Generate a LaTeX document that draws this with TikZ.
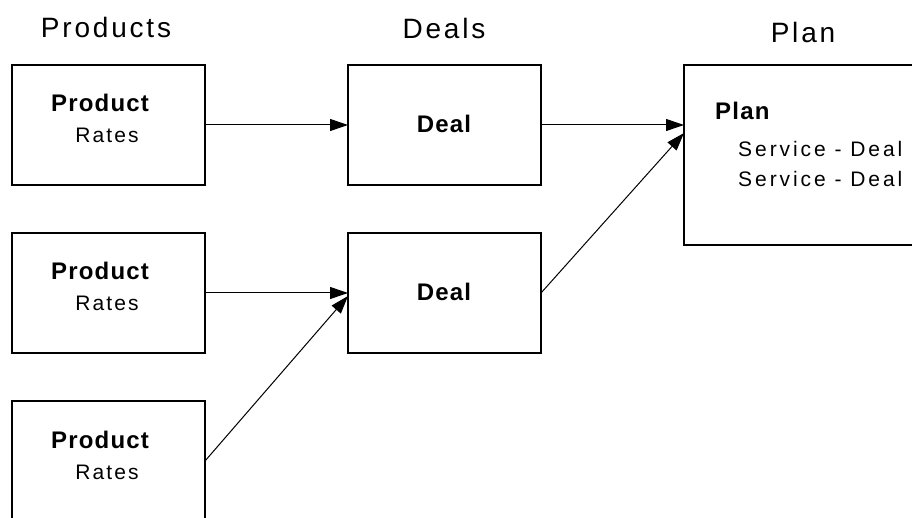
\documentclass[tikz,border=0pt]{standalone}
\usepackage{fontspec}
\usetikzlibrary{arrows.meta,calc}
\newfontfamily\lfont[LetterSpace=10]{Liberation Sans}
\newfontfamily\bfont[LetterSpace=5]{Liberation Sans Bold}
\newfontfamily\sfont[LetterSpace=14]{Liberation Sans}
\begin{document}
\begin{tikzpicture}[x=1pt,y=-1pt,
  box/.style={draw=black,line width=1.5pt,minimum width=193pt,minimum height=120pt,inner sep=0pt,outer sep=0pt,anchor=north west},
  txt/.style={inner sep=0pt,font=\lfont\fontsize{21}{24}\selectfont},
  stxt/.style={inner sep=0pt,font=\sfont\fontsize{21}{24}\selectfont},
  btxt/.style={inner sep=0pt,font=\bfont\fontsize{24}{26}\selectfont},
  head/.style={inner sep=0pt,anchor=base,font=\lfont\fontsize{28}{30}\selectfont},
  arr/.style={line width=1pt,-{Triangle[length=18pt,width=12pt]}}]
\useasboundingbox (0,0) rectangle (912,518);
\fill[white] (0,0) rectangle (912,518);
\clip (0,0) rectangle (912,518);
% headings
\node[head] (hprod) at (106,38) {Products};
\node[head] (hdeal) at (444,39) {Deals};
\node[head] (hplan) at (803,43) {Plan};
% product boxes
\node[box] (p1) at (12,65) {};
\node[box] (p2) at (12,233) {};
\node[box] (p3) at (12,401) {};
\node[btxt,anchor=base] (p1a) at (100,112) {Product};
\node[txt,anchor=base] (p1b) at (107,143) {Rates};
\node[btxt,anchor=base] (p2a) at (100,280) {Product};
\node[txt,anchor=base] (p2b) at (107,311) {Rates};
\node[btxt,anchor=base] (p3a) at (100,448) {Product};
\node[txt,anchor=base] (p3b) at (107,479) {Rates};
% deal boxes
\node[box] (d1) at (348,65) {};
\node[box] (d2) at (348,233) {};
\node[btxt,anchor=base] (d1a) at (444,133) {Deal};
\node[btxt,anchor=base] (d2a) at (444,301) {Deal};
% plan box
\node[box,minimum width=300pt,minimum height=180pt] (pl) at (684,65) {};
\node[btxt,anchor=base west] (pla) at (715,120) {Plan};
\node[stxt,anchor=base west] (plb) at (738,157) {Service - Deal};
\node[stxt,anchor=base west] (plc) at (738,187) {Service - Deal};
% connectors
\draw[arr] (p1.east) -- (d1.west);
\draw[arr] (p2.east) -- (d2.west);
\draw[arr] (p3.east) -- ($(d2.west)+(0,3)$);
\draw[arr] (d1.east) -- ($(pl.north west)+(0,60)$);
\draw[arr] (d2.east) -- ($(pl.north west)+(0,68)$);
\end{tikzpicture}
\end{document}
